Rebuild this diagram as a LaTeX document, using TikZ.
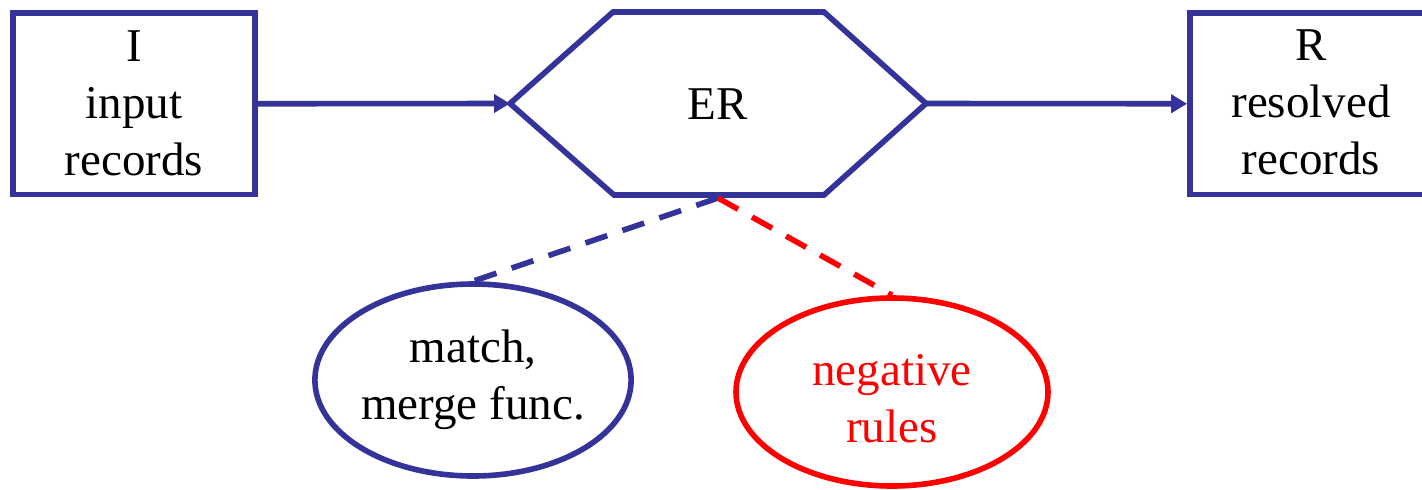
\documentclass[tikz,border=0pt]{standalone}
\usepackage{fontspec}
\setmainfont{Liberation Serif}
\usetikzlibrary{arrows.meta,shapes.geometric}
\definecolor{navy}{RGB}{51,51,153}
\definecolor{rulered}{RGB}{255,0,0}
\begin{document}
\begin{tikzpicture}[x=0.5pt,y=-0.5pt,
  every node/.style={font=\fontsize{23.5}{28.5}\selectfont, align=center},
  recbox/.style={draw=navy, line width=2.9pt, rectangle, minimum width=121pt,
    minimum height=90.75pt, inner sep=0pt},
  oval/.style={ellipse, line width=2.8pt, minimum width=156pt, inner sep=0pt},
  flow/.style={draw=navy, line width=2.8pt, -{Triangle[length=8pt,width=9pt]}},
  link/.style={line width=2.8pt, dash pattern=on 11.5pt off 8pt}
]
\useasboundingbox (0,0) rectangle (1422,489);

% input and output stores
\node[recbox] (I) at (134,103.75) {I\\input\\records};
\node[recbox, minimum width=135pt] (R) at (1325,103.75) {};
\node (Rtext) at (1311,102.5) {R\\resolved\\records};

% ER process hexagon
\coordinate (erW)  at (510,103.5);
\coordinate (erNW) at (613,12);
\coordinate (erNE) at (824,12);
\coordinate (erE)  at (926,103.5);
\coordinate (erSE) at (824,195);
\coordinate (erSW) at (614,195);
\coordinate (erS)  at (718,198);
\draw[navy, line width=2.8pt] (erW) -- (erNW) -- (erNE) -- (erE) -- (erSE) -- (erSW) -- cycle;
\node (er) at (718,104) {ER};

% main data flow
\draw[flow] (I.east) -- (erW);
\draw[flow] (erE) -- (R.west);

% inputs to ER
\node[oval, draw=navy, minimum height=96pt] (mf) at (473,380) {match,\\merge func.};
\node[oval, draw=rulered, minimum height=94pt] (neg) at (892,392) {};
\node[text=rulered] (negtext) at (892,399) {negative\\rules};

\draw[link, navy] (erS) -- (mf.north);
\draw[link, rulered] (erS) -- (neg.north);
\end{tikzpicture}
\end{document}
